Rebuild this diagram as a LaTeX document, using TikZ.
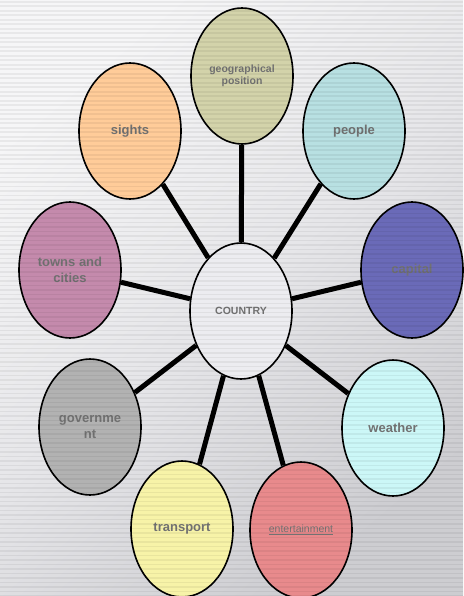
\documentclass[tikz,border=0pt]{standalone}
\usepackage{fontspec}
\setmainfont{Liberation Sans}
\usetikzlibrary{shapes.geometric}
\definecolor{bglight}{HTML}{F6F6F7}
\definecolor{bgmid}{HTML}{E6E6E9}
\definecolor{bgdark}{HTML}{CDCDD1}
\definecolor{labelgray}{HTML}{727272}
\definecolor{cgeo}{HTML}{D3D3AA}
\definecolor{csights}{HTML}{FFCC99}
\definecolor{cpeople}{HTML}{B8E0E2}
\definecolor{ccapital}{HTML}{6A6AB8}
\definecolor{ctowns}{HTML}{C48AAC}
\definecolor{cgov}{HTML}{B2B2B2}
\definecolor{cweather}{HTML}{CCF7F7}
\definecolor{ctransport}{HTML}{F7F3A8}
\definecolor{cent}{HTML}{E88A8C}
\definecolor{ccountry}{HTML}{ECECF0}
\begin{document}
\begin{tikzpicture}[x=1pt,y=-1pt,
  bubble/.style={ellipse, draw=black, line width=1.6pt, minimum width=102pt, minimum height=136pt,
    inner sep=0pt, text=labelgray, align=center, font=\bfseries\fontsize{13}{16}\selectfont},
  smalltext/.style={font=\bfseries\fontsize{10.5}{12}\selectfont},
  link/.style={draw=black, line width=5pt}]
\useasboundingbox (0,0) rectangle (463,596);
\shade[top color=bglight, bottom color=bgdark, middle color=bgmid, shading angle=40] (0,0) rectangle (463,596);
% nodes
\node[bubble, fill=ccountry, smalltext] (country) at (241,311) {COUNTRY};
\node[bubble, fill=cgeo, smalltext] (geo) at (242,76) {geographical\\position};
\node[bubble, fill=csights] (sights) at (130,131) {sights};
\node[bubble, fill=cpeople] (people) at (354,131) {people};
\node[bubble, fill=ccapital] (capital) at (412,270) {capital};
\node[bubble, fill=ctowns] (towns) at (70,270) {towns and\\cities};
\node[bubble, fill=cgov] (gov) at (90,427) {governme\\nt};
\node[bubble, fill=cweather] (weather) at (393,428) {weather};
\node[bubble, fill=ctransport] (transport) at (182,529) {transport};
\node[bubble, fill=cent, font=\fontsize{10.5}{12}\selectfont] (ent) at (301,530) {\underline{entertainment}};
% connectors
\foreach \n in {geo,sights,people,capital,towns,gov,weather,transport,ent}
  \draw[link] (country) -- (\n);
% horizontal stripes over everything
\foreach \k in {0,...,132} \fill[black,opacity=0.055] (0,4.5*\k+1) rectangle (463,4.5*\k+2.6);
\end{tikzpicture}
\end{document}
